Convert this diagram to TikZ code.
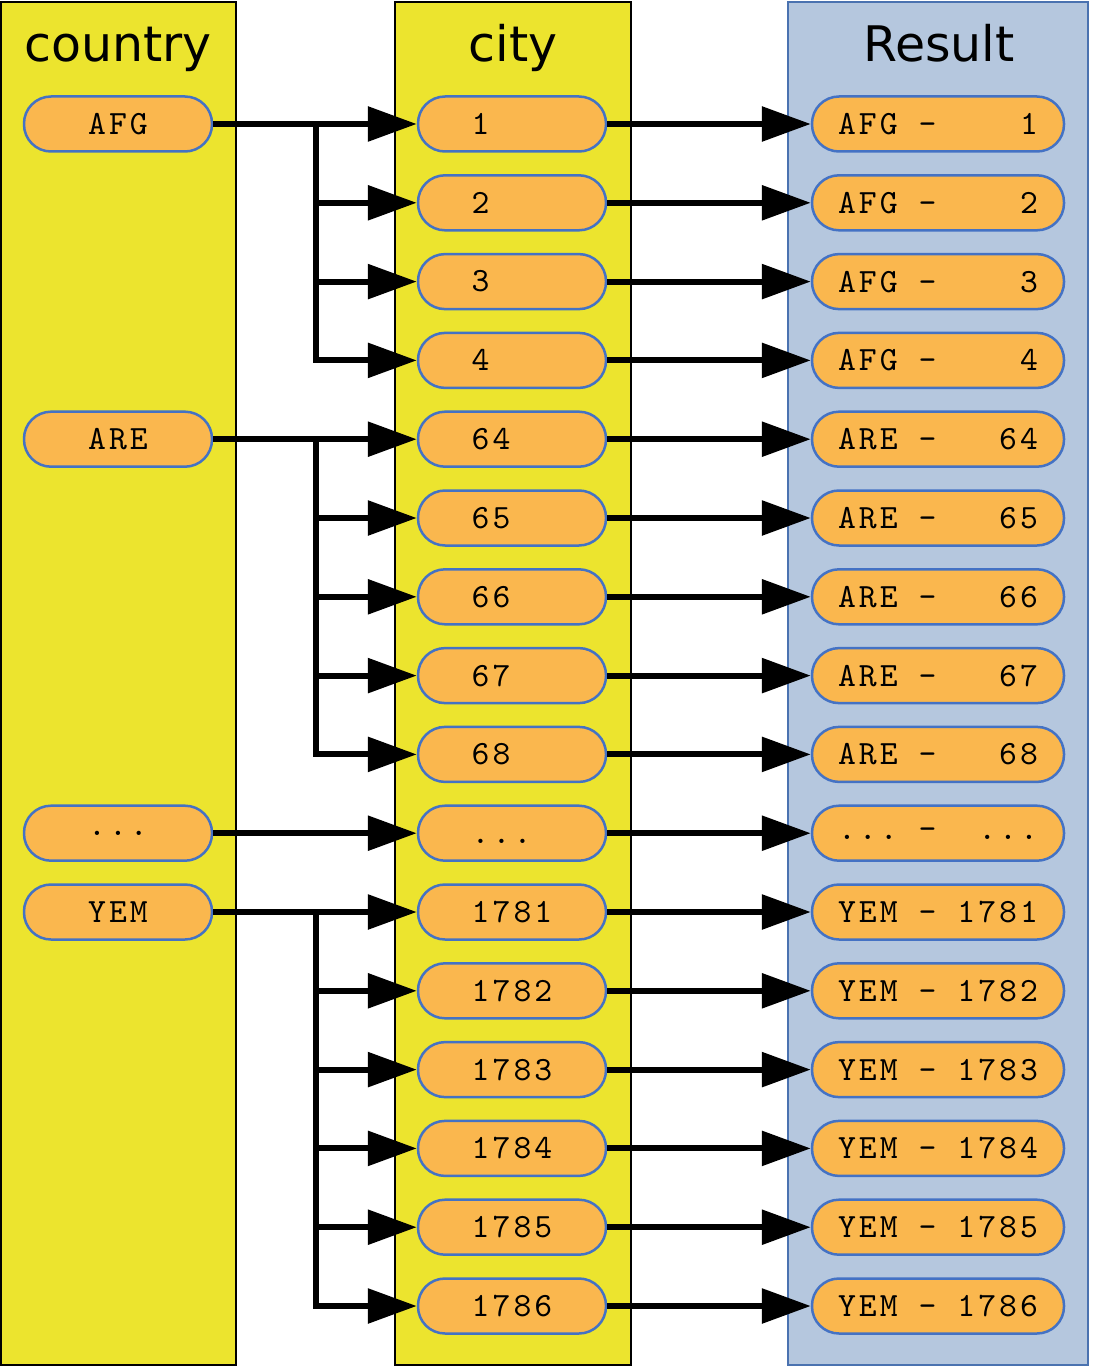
\documentclass[tikz,border=0pt]{standalone}
\usepackage{fontspec}
\setmonofont{lmmono10-regular}[Extension=.otf, LetterSpace=9]
\newfontfamily\titlefont{DejaVu Sans}
\usetikzlibrary{arrows.meta}
\definecolor{colyellow}{RGB}{236,228,46}
\definecolor{pillfill}{RGB}{250,183,78}
\definecolor{pillline}{RGB}{68,114,196}
\definecolor{resfill}{RGB}{181,199,222}
\definecolor{resline}{RGB}{74,114,176}
\newcommand\gp{\hspace*{20.9pt}}
\newcommand\tdots{...}
\begin{document}
\begin{tikzpicture}[x=1pt,y=-1pt,
  column/.style={draw=black, line width=2pt, fill=colyellow},
  rescolumn/.style={draw=resline, line width=2pt, fill=resfill},
  title/.style={font=\titlefont\fontsize{49}{49}\selectfont, anchor=base, inner sep=0pt},
  pill/.style={draw=pillline, fill=pillfill, line width=2.5pt, rounded corners=27pt,
    minimum height=55pt, inner sep=0pt, font=\ttfamily\fontsize{34}{34}\selectfont},
  cpill/.style={pill, minimum width=188pt},
  rpill/.style={pill, minimum width=252pt},
  link/.style={line width=6pt, -{Triangle[length=49pt,width=34pt]}},
]
\useasboundingbox (0,0) rectangle (1092,1367);
% columns
\path[column] (1,2) rectangle (236,1365);
\path[column] (395,2) rectangle (631,1365);
\path[rescolumn] (788,2) rectangle (1088,1365);
% titles
\node[title] (tcountry) at (118,62) {country};
\node[title] (tcity) at (513,62) {city};
\node[title] (tresult) at (939,62) {Result};
% country pills
\node[cpill] (afg) at (118,124) {AFG};
\node[cpill] (are) at (118,{124+78.8*4}) {ARE};
\node[cpill] (dots) at (118,{124+78.8*9}) {\tdots};
\node[cpill] (yem) at (118,{124+78.8*10}) {YEM};
% city and result pills
\foreach \i/\c/\r in {
  0/1/AFG\gp-\gp\gp\gp\gp1,
  1/2/AFG\gp-\gp\gp\gp\gp2,
  2/3/AFG\gp-\gp\gp\gp\gp3,
  3/4/AFG\gp-\gp\gp\gp\gp4,
  4/64/ARE\gp-\gp\gp\gp64,
  5/65/ARE\gp-\gp\gp\gp65,
  6/66/ARE\gp-\gp\gp\gp66,
  7/67/ARE\gp-\gp\gp\gp67,
  8/68/ARE\gp-\gp\gp\gp68,
  9/\tdots/\tdots\gp-\gp\gp\tdots,
  10/1781/YEM\gp-\gp1781,
  11/1782/YEM\gp-\gp1782,
  12/1783/YEM\gp-\gp1783,
  13/1784/YEM\gp-\gp1784,
  14/1785/YEM\gp-\gp1785,
  15/1786/YEM\gp-\gp1786}{
  \node[cpill] (c\i) at (512,{124+78.8*\i}) {\rlap{\c}\phantom{0000}};
  \node[rpill] (r\i) at (938,{124+78.8*\i}) {\r};
}
% branch coordinate
\coordinate (bx) at (316,0);
% country -> city
\draw[link] (afg.east) -- (c0.west);
\foreach \k in {1,2,3} \draw[link] (afg.east) -- (afg.east -| bx) |- (c\k.west);
\draw[link] (are.east) -- (c4.west);
\foreach \k in {5,6,7,8} \draw[link] (are.east) -- (are.east -| bx) |- (c\k.west);
\draw[link] (dots.east) -- (c9.west);
\draw[link] (yem.east) -- (c10.west);
\foreach \k in {11,12,13,14,15} \draw[link] (yem.east) -- (yem.east -| bx) |- (c\k.west);
% city -> result
\foreach \k in {0,1,2,3,4,5,6,7,8,9,10,11,12,13,14,15} \draw[link] (c\k.east) -- (r\k.west);
\end{tikzpicture}
\end{document}
